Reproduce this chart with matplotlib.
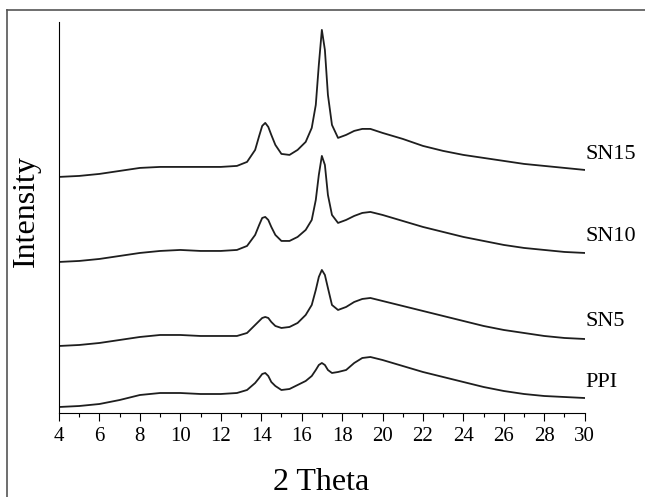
import matplotlib
matplotlib.use("Agg")
import matplotlib.pyplot as plt
from matplotlib.lines import Line2D
from matplotlib.ticker import MultipleLocator

plt.rcParams['font.family'] = ['Liberation Serif', 'DejaVu Serif']

# 2 theta positions where the curves were read
two_theta = [4, 5, 6, 7, 8, 9, 10, 11, 12, 12.8, 13.3, 13.7, 13.9, 14.05, 14.2,
             14.35, 14.5, 14.7, 15.0, 15.4, 15.8, 16.2, 16.5, 16.7, 16.85, 17.0,
             17.15, 17.3, 17.5, 17.8, 18.2, 18.6, 19.0, 19.4, 20, 21, 22, 23, 24,
             25, 26, 27, 28, 29, 30]

# intensities (a.u., already stacked with offsets)
sn15 = [236, 237, 239, 242, 245, 246, 246, 246, 246, 247, 251, 263, 277, 287,
        290, 286, 278, 268, 259, 258, 263, 271, 285, 308, 348, 383, 363, 318,
        288, 275, 278, 282, 284, 284, 280, 274, 267, 262, 258, 255, 252, 249,
        247, 245, 243]
sn10 = [151, 152, 154, 157, 160, 162, 163, 162, 162, 163, 167, 178, 188, 195,
        196, 193, 186, 178, 172, 172, 176, 183, 193, 213, 238, 257, 248, 218,
        198, 190, 193, 197, 200, 201, 198, 192, 186, 181, 176, 172, 168, 165,
        163, 161, 160]
sn5 = [67, 68, 70, 73, 76, 78, 78, 77, 77, 77, 80, 88, 92, 95, 96, 95, 91, 87,
       85, 86, 90, 98, 108, 123, 136, 143, 138, 125, 108, 103, 106, 111, 114,
       115, 112, 107, 102, 97, 92, 87, 83, 80, 77, 75, 74]
ppi = [6, 7, 9, 13, 18, 20, 20, 19, 19, 20, 23, 30, 35, 39, 40, 37, 31, 27, 23,
       24, 28, 32, 37, 43, 48, 50, 48, 43, 40, 41, 43, 50, 55, 56, 53, 47, 41,
       36, 31, 26, 22, 19, 17, 16, 15]

series = [sn15, sn10, sn5, ppi]
names = ['SN15', 'SN10', 'SN5', 'PPI']
label_y = [258, 176, 91, 30]

fig = plt.figure(figsize=(6.45, 4.97), dpi=100)
ax = fig.add_axes([0.0915, 0.169, 0.815, 0.787])

for ys, name, ly in zip(series, names, label_y):
    ax.plot(two_theta, ys, color='#1e1e1e', lw=1.3)
    ax.text(30.05, ly, name, fontsize=16, ha='left', va='center', clip_on=False)

ax.set_xlim(4, 30)
ax.set_ylim(0, 391)
ax.xaxis.set_major_locator(MultipleLocator(2))
ax.xaxis.set_minor_locator(MultipleLocator(1))
ax.tick_params(axis='x', which='major', direction='out', length=5.5, width=0.8,
               labelsize=15, pad=4.5)
ax.tick_params(axis='x', which='minor', direction='out', length=3, width=0.8)
ax.set_yticks([])
for side in ['top', 'right']:
    ax.spines[side].set_visible(False)
for side in ['left', 'bottom']:
    ax.spines[side].set_linewidth(0.8)

fig.text(321.5 / 645, 1 - 482 / 497, '2 Theta', fontsize=23, ha='center', va='center')
fig.text(26 / 645, 1 - 211 / 497, 'Intensity', fontsize=23, rotation=90,
         ha='center', va='center')

# frame around the figure (only top and left edges visible in the crop)
fig.add_artist(Line2D([7 / 645, 7 / 645], [0, 1 - 10 / 497], color='#555555', lw=1.2))
fig.add_artist(Line2D([7 / 645, 1], [1 - 10 / 497, 1 - 10 / 497], color='#555555', lw=1.2))

fig.savefig('out.png', dpi=100)
